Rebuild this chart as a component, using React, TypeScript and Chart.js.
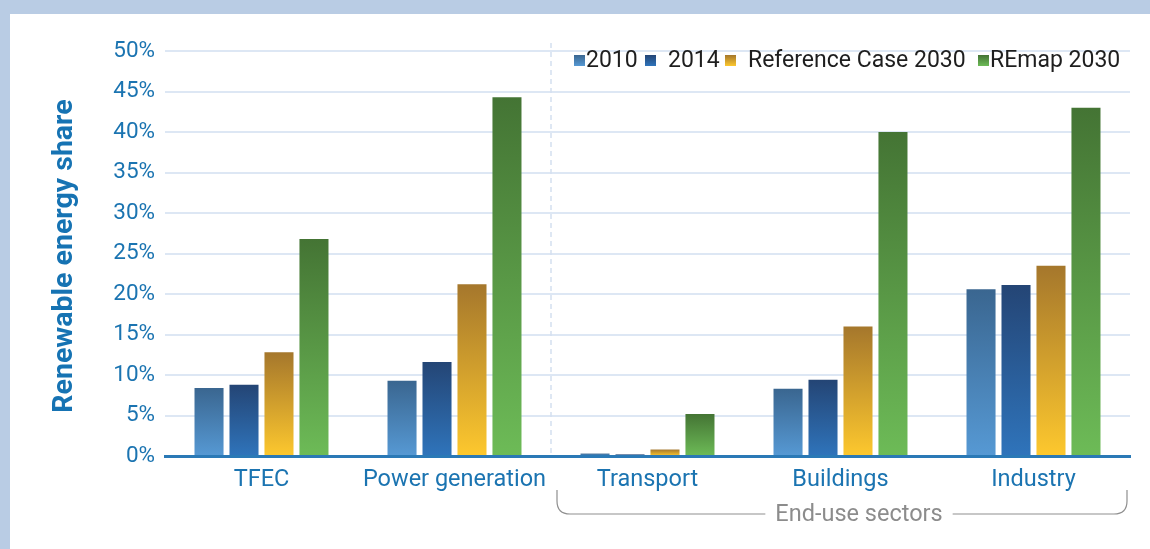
import React, { useEffect, useRef } from "react";
import { Chart, registerables } from "chart.js";

Chart.register(...registerables);

const categories = ["TFEC", "Power generation", "Transport", "Buildings", "Industry"];
const seriesNames = ["2010", "2014", "Reference Case 2030", "REmap 2030"];
const v2010 = [8.4, 9.3, 0.3, 8.3, 20.6];
const v2014 = [8.8, 11.6, 0.2, 9.4, 21.1];
const vRef = [12.8, 21.2, 0.8, 16.0, 23.5];
const vRemap = [26.8, 44.3, 5.2, 40.0, 43.0];
const gradTop = ["#3a6690", "#244575", "#a5772c", "#447434"];
const gradBottom = ["#5699d4", "#2f74bb", "#fdc82e", "#6dbb57"];
const legendBoxX = [574, 645, 725, 978];
const legendTextX = [586, 668, 748, 990];
const yTitle = "Renewable energy share";
const bracketLabel = "End-use sectors";

const FONT = "Roboto, 'Open Sans', sans-serif";

export default function App() {
  const ref = useRef<HTMLCanvasElement | null>(null);
  useEffect(() => {
    const canvas = ref.current;
    if (!canvas) return;
    const allData = [v2010, v2014, vRef, vRemap];

    const makeGrad = (ctx: any, dsIndex: number) => {
      const chart = ctx.chart;
      const y = chart.scales && chart.scales.y;
      if (!y || ctx.raw == null) return gradBottom[dsIndex];
      const top = y.getPixelForValue(ctx.raw);
      const base = y.getPixelForValue(0);
      if (!isFinite(top) || !isFinite(base) || Math.abs(base - top) < 0.5) return gradTop[dsIndex];
      const g = chart.ctx.createLinearGradient(0, top, 0, base);
      g.addColorStop(0, gradTop[dsIndex]);
      g.addColorStop(1, gradBottom[dsIndex]);
      return g;
    };

    const decor = {
      id: "decor",
      beforeDraw(chart: any) {
        const c = chart.ctx;
        c.save();
        c.fillStyle = "#b9cce4";
        c.fillRect(0, 0, chart.width, chart.height);
        c.fillStyle = "#ffffff";
        c.fillRect(10, 14, chart.width - 10, chart.height - 14);
        c.restore();
      },
      beforeDatasetsDraw(chart: any) {
        const c = chart.ctx;
        const x = chart.scales.x;
        const a = chart.chartArea;
        const xm = (x.getPixelForValue(1) + x.getPixelForValue(2)) / 2;
        c.save();
        c.strokeStyle = "#d3e0f0";
        c.lineWidth = 1.5;
        c.setLineDash([5, 4]);
        c.beginPath();
        c.moveTo(xm, a.top - 8);
        c.lineTo(xm, a.bottom);
        c.stroke();
        c.restore();
      },
      afterDraw(chart: any) {
        const c = chart.ctx;
        c.save();
        // legend
        c.font = `23px ${FONT}`;
        c.textBaseline = "middle";
        c.textAlign = "left";
        seriesNames.forEach((name, i) => {
          const lx = legendBoxX[i];
          const g = c.createLinearGradient(0, 55, 0, 66);
          g.addColorStop(0, gradTop[i]);
          g.addColorStop(1, gradBottom[i]);
          c.fillStyle = g;
          c.fillRect(lx, 55, 11, 11);
          c.fillStyle = "#1e1e1e";
          c.fillText(name, legendTextX[i], 61);
        });
        // y title
        c.save();
        c.translate(65, 256);
        c.rotate(-Math.PI / 2);
        c.font = `700 28.5px Roboto, sans-serif`;
        c.fillStyle = "#1673b3";
        c.textAlign = "center";
        c.textBaseline = "middle";
        c.fillText(yTitle, 0, 0);
        c.restore();
        // bracket
        const L = 557, R = 1127, yT = 490, yB = 514, r = 13;
        c.font = `23.5px ${FONT}`;
        const tw = c.measureText(bracketLabel).width;
        const tx = 859;
        c.strokeStyle = "#8f8f8f";
        c.lineWidth = 1.2;
        c.beginPath();
        c.moveTo(L, yT);
        c.lineTo(L, yB - r);
        c.quadraticCurveTo(L, yB, L + r, yB);
        c.lineTo(tx - tw / 2 - 10, yB);
        c.moveTo(tx + tw / 2 + 10, yB);
        c.lineTo(R - r, yB);
        c.quadraticCurveTo(R, yB, R, yB - r);
        c.lineTo(R, yT);
        c.stroke();
        c.fillStyle = "#8c8c8c";
        c.textAlign = "center";
        c.textBaseline = "middle";
        c.fillText(bracketLabel, tx, yB + 1);
        c.restore();
      },
    };

    const chart = new Chart(canvas, {
      type: "bar",
      data: {
        labels: categories,
        datasets: allData.map((d, i) => ({
          label: seriesNames[i],
          data: d,
          backgroundColor: (ctx: any) => makeGrad(ctx, i),
          borderWidth: 0,
          categoryPercentage: 0.725,
          barPercentage: 0.83,
        })),
      },
      options: {
        animation: false,
        responsive: false,
        maintainAspectRatio: false,
        layout: { padding: { top: 51, right: 20, left: 0, bottom: 0 } },
        plugins: { legend: { display: false }, tooltip: { enabled: false }, title: { display: false } },
        scales: {
          x: {
            grid: { display: false, drawTicks: false },
            border: { display: true, color: "#2a79b6", width: 3 },
            ticks: { color: "#1b74b1", font: { family: FONT, size: 23.5 }, padding: 10 },
            afterFit: (s: any) => { s.height = 93; },
          },
          y: {
            min: 0,
            max: 50,
            ticks: {
              stepSize: 5,
              color: "#1b74b1",
              font: { family: FONT, size: 22.5 },
              padding: 10,
              callback: (v: any) => v + "%",
            },
            grid: { color: "#dde7f4", lineWidth: 2, drawTicks: false },
            border: { display: false },
            afterFit: (s: any) => { s.width = 165; },
          },
        },
      },
      plugins: [decor],
    });
    return () => chart.destroy();
  }, []);

  return (
    <div style={{ position: "absolute", left: 0, top: 0, width: 1150, height: 549 }}>
      <canvas ref={ref} width={1150} height={549} style={{ display: "block" }} />
    </div>
  );
}
